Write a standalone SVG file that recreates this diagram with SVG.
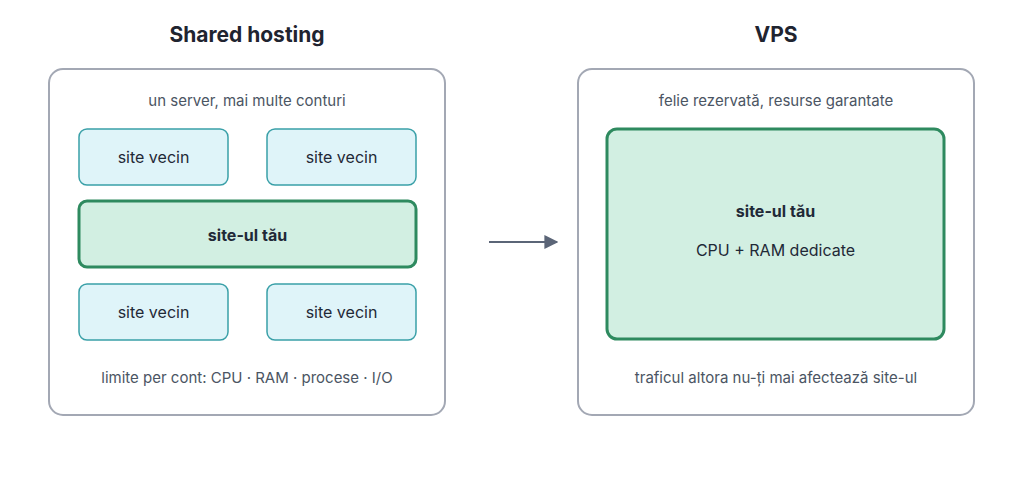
<svg xmlns="http://www.w3.org/2000/svg" width="1024" height="495" viewBox="0 0 1024 495">
<defs>
<style>
text{font-family:Inter,"Liberation Sans",sans-serif;text-anchor:middle}
.title{font-size:21px;font-weight:700;fill:#1f2430}
.note{font-size:15px;fill:#4b5563}
.lbl{font-size:16px;fill:#1f2937}
.b{font-weight:700}
.panel{fill:#fff;stroke:#a3a8b4;stroke-width:2}
.vec{fill:#dff4f9;stroke:#3aa0a8;stroke-width:1.5}
.own{fill:#d2efe2;stroke:#2e8a5f;stroke-width:3}
</style>
<marker id="ah" viewBox="0 0 10 10" refX="9" refY="5" markerWidth="14" markerHeight="14" markerUnits="userSpaceOnUse" orient="auto"><path d="M0,0L10,5L0,10z" fill="#5b6577"/></marker>
</defs>
<rect width="1024" height="495" fill="#fff"/>
<text class="title" x="247" y="42">Shared hosting</text>
<text class="title" x="776" y="42">VPS</text>
<g id="shared">
<rect class="panel" x="49" y="69" width="396" height="346" rx="14"/>
<text class="note" x="247" y="106">un server, mai multe conturi</text>
<text class="note" x="247" y="383">limite per cont: CPU · RAM · procese · I/O</text>
</g>
<g id="n1"><rect class="vec" x="79" y="129" width="149" height="56" rx="8"/><text class="lbl" x="153.5" y="163">site vecin</text></g>
<g id="n2"><rect class="vec" x="267" y="129" width="149" height="56" rx="8"/><text class="lbl" x="341.5" y="163">site vecin</text></g>
<g id="own1"><rect class="own" x="79" y="201" width="337" height="66" rx="8"/><text class="lbl b" x="247.5" y="241">site-ul tău</text></g>
<g id="n3"><rect class="vec" x="79" y="284" width="149" height="56" rx="8"/><text class="lbl" x="153.5" y="318">site vecin</text></g>
<g id="n4"><rect class="vec" x="267" y="284" width="149" height="56" rx="8"/><text class="lbl" x="341.5" y="318">site vecin</text></g>
<g id="vps">
<rect class="panel" x="578" y="69" width="396" height="346" rx="14"/>
<text class="note" x="776" y="106">felie rezervată, resurse garantate</text>
<text class="note" x="776" y="383">traficul altora nu-ți mai afectează site-ul</text>
</g>
<g id="own2"><rect class="own" x="607" y="129" width="337" height="210" rx="10"/><text class="lbl b" x="775.5" y="217">site-ul tău</text><text class="lbl" x="775.5" y="256">CPU + RAM dedicate</text></g>
<g id="connectors"><line x1="489" y1="242" x2="557" y2="242" stroke="#5b6577" stroke-width="2" marker-end="url(#ah)"/></g>
</svg>
